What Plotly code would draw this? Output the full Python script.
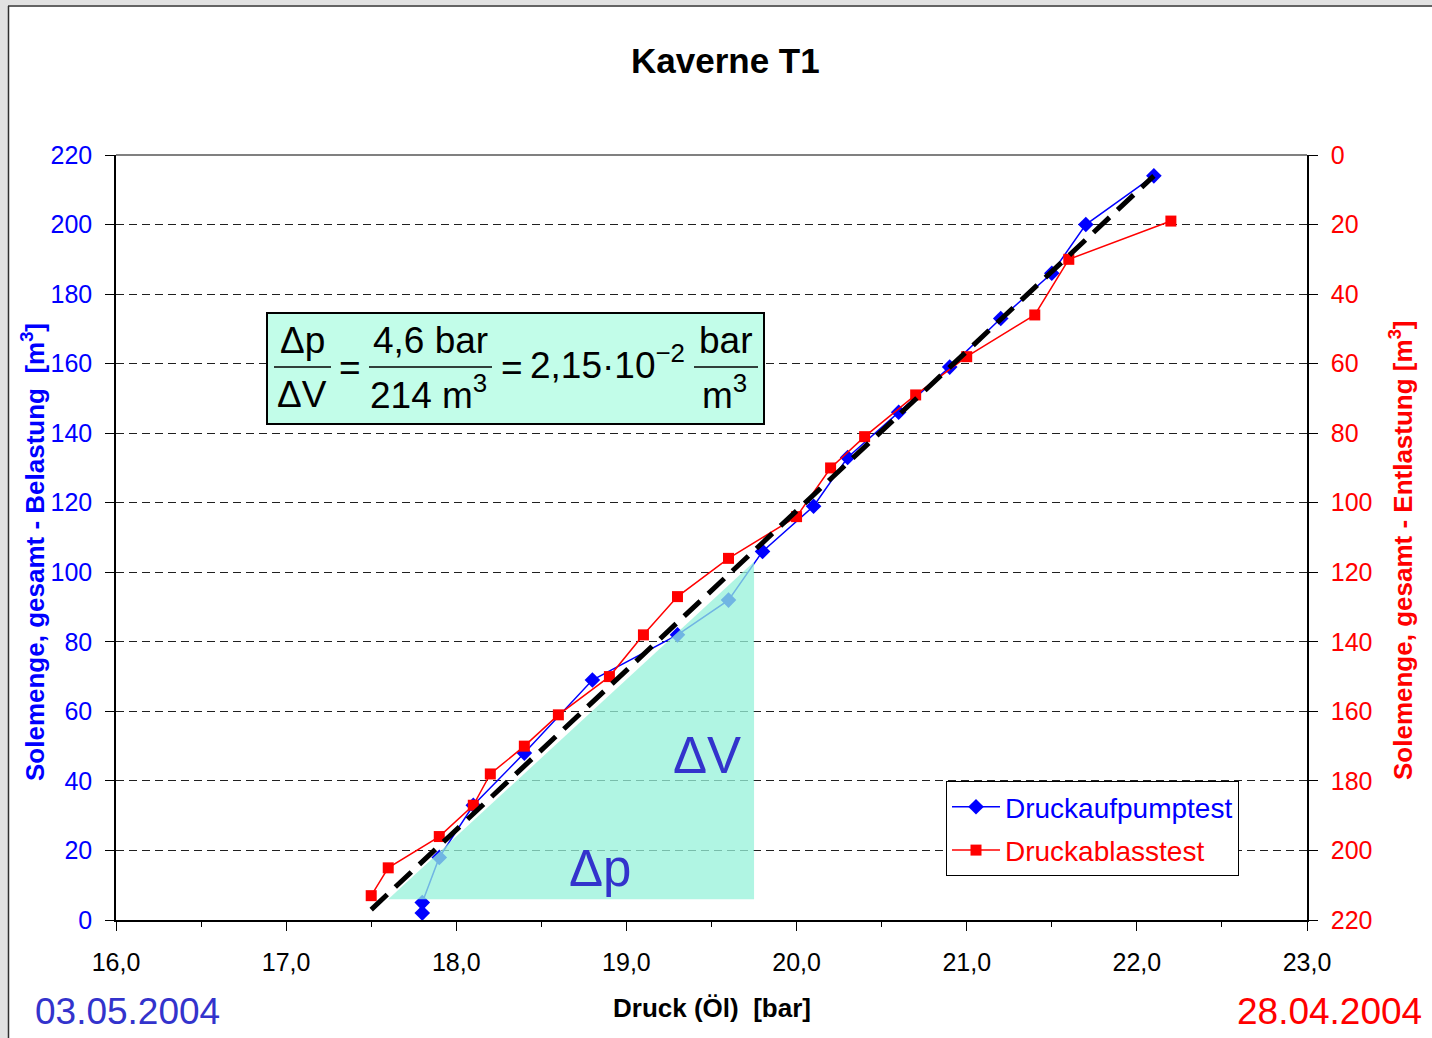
import plotly.graph_objects as go

# ---------------- data ----------------
# Druckaufpumptest (left axis, Belastung m³)
blue_x = [17.8, 17.8, 17.9, 18.1, 18.4, 18.8, 19.3, 19.6, 19.8, 20.1, 20.3, 20.6, 20.9, 21.2, 21.5, 21.7, 22.1]
blue_y = [2, 5, 18, 33, 48, 69, 82, 92, 106, 119, 133, 146, 159, 173, 186, 200, 214]

# Druckablasstest (right axis, Entlastung m³, reversed)
red_x = [17.5, 17.6, 17.9, 18.1, 18.2, 18.4, 18.6, 18.9, 19.1, 19.3, 19.6, 20.0, 20.2, 20.4, 20.7, 21.0, 21.4, 21.6, 22.2]
red_y = [213, 205, 196, 187, 178, 170, 161, 150, 138, 127, 116, 104, 90, 81, 69, 58, 46, 30, 19]

# regression line and triangle (left axis units)
fit_x = [17.5, 22.1]
fit_y = [3, 214]
tri_x = [17.6, 19.75, 19.75, 17.6]
tri_y = [6, 6, 103, 6]

x_ticks = [16, 17, 18, 19, 20, 21, 22, 23]
y_ticks = list(range(0, 221, 20))

FONT = "Liberation Sans, Arial, sans-serif"
BLUE = "#0000ff"
RED = "#ff0000"
DBLUE = "#3333cc"

# plot area in pixels
L, R, T, B = 116, 1307, 155, 920
W, H = 1432, 1038


def P(px, py):
    return ((px - L) / (R - L), (B - py) / (B - T))


fig = go.Figure()

fig.add_trace(go.Scatter(
    x=blue_x, y=blue_y, mode="lines+markers", yaxis="y",
    name=f"<span style='color:{BLUE}'>Druckaufpumptest</span>",
    legendgroup="a",
    line=dict(color=BLUE, width=1.5),
    marker=dict(symbol="diamond", size=12, color=BLUE),
))
fig.add_trace(go.Scatter(
    x=red_x, y=red_y, mode="lines+markers", yaxis="y2",
    name=f"<span style='color:{RED}'>Druckablasstest</span>",
    legendgroup="b",
    line=dict(color=RED, width=1.5),
    marker=dict(symbol="square", size=11, color=RED),
))
fig.add_trace(go.Scatter(
    x=tri_x, y=tri_y, mode="lines", yaxis="y3", fill="toself",
    fillcolor="rgba(150,242,218,0.75)", line=dict(width=0),
    showlegend=False, hoverinfo="skip",
))
fig.add_trace(go.Scatter(
    x=fit_x, y=fit_y, mode="lines", yaxis="y3",
    line=dict(color="black", width=5, dash="22px,11px"),
    showlegend=False, hoverinfo="skip",
))

shapes = []
annotations = []


def line_px(x0, y0, x1, y1, color="black", width=1.5):
    a = P(x0, y0)
    b = P(x1, y1)
    shapes.append(dict(type="line", xref="paper", yref="paper",
                       x0=a[0], y0=a[1], x1=b[0], y1=b[1],
                       line=dict(color=color, width=width)))


def text_px(px, py, text, size, color="black", bold=False, angle=0, xanchor="center"):
    x, y = P(px, py)
    if bold:
        text = f"<b>{text}</b>"
    annotations.append(dict(xref="paper", yref="paper", x=x, y=y, text=text,
                            showarrow=False, xanchor=xanchor, yanchor="middle",
                            textangle=angle,
                            font=dict(family=FONT, size=size, color=color)))


# window frame
a = P(0, 0); b = P(8, H)
shapes.append(dict(type="rect", xref="paper", yref="paper", x0=a[0], y0=a[1], x1=b[0], y1=b[1],
                   fillcolor="#e2e2e2", line=dict(width=0), layer="below"))
a = P(0, 0); b = P(W, 5)
shapes.append(dict(type="rect", xref="paper", yref="paper", x0=a[0], y0=a[1], x1=b[0], y1=b[1],
                   fillcolor="#e2e2e2", line=dict(width=0), layer="below"))
line_px(8.5, 6, 8.5, H, color="#303030", width=1.5)
line_px(8, 6, W, 6, color="#303030", width=1.5)

# top border of plot area
line_px(L, T, R, T, color="#808080", width=2)

# formula box
a = P(267, 313); b = P(764, 424)
shapes.append(dict(type="rect", xref="paper", yref="paper", x0=a[0], y0=a[1], x1=b[0], y1=b[1],
                   fillcolor="#c2fde9", line=dict(color="black", width=2)))
FS = 37
text_px(302, 340, "Δp", FS)
text_px(302, 394, "ΔV", FS)
line_px(274, 367, 331, 367)
text_px(350, 367, "=", FS)
text_px(430, 340, "4,6 bar", FS)
text_px(428, 392, "214 m<sup>3</sup>", FS)
line_px(369, 367, 492, 367)
text_px(512, 367, "=", FS)
text_px(607, 362, "2,15·10<sup>−2</sup>", FS)
text_px(725, 340, "bar", FS)
text_px(724, 392, "m<sup>3</sup>", FS)
line_px(694, 367, 758, 367)

# triangle labels
text_px(707, 755, "ΔV", 51, color=DBLUE)
text_px(600, 868, "Δp", 51, color=DBLUE)

# title, axis titles, dates
text_px(725, 60, "Kaverne T1", 35, bold=True)
text_px(712, 1008, "Druck (Öl)  [bar]", 26, bold=True)
text_px(33, 552, "Solemenge, gesamt - Belastung  [m<sup>3</sup>]", 26, color=BLUE, bold=True, angle=-90)
text_px(1401, 551, "Solemenge, gesamt - Entlastung [m<sup>3</sup>]", 26, color=RED, bold=True, angle=-90)
text_px(127, 1011, "03.05.2004", 37, color=DBLUE)
text_px(1329, 1011, "28.04.2004", 37, color=RED)

fig.update_layout(
    width=W, height=H,
    margin=dict(l=L, r=W - R, t=T, b=H - B, pad=0),
    paper_bgcolor="white", plot_bgcolor="white",
    separators=", ",
    font=dict(family=FONT, size=25, color="black"),
    showlegend=True,
    legend=dict(x=P(946, 781)[0], y=P(946, 781)[1], xanchor="left", yanchor="top",
                bgcolor="white", bordercolor="black", borderwidth=1,
                font=dict(family=FONT, size=28), itemwidth=48,
                tracegroupgap=4),
    xaxis=dict(range=[16, 23], tickvals=x_ticks, tickformat=".1f",
               ticks="outside", ticklen=9, tickcolor="black",
               ticklabelstandoff=10,
               showline=True, linecolor="black", linewidth=1.5,
               showgrid=False, zeroline=False,
               tickfont=dict(family=FONT, size=25, color="black"),
               minor=dict(dtick=0.5, ticks="outside", ticklen=5, tickcolor="black"),
               fixedrange=True),
    yaxis=dict(range=[0, 220], tickvals=y_ticks, side="left",
               ticks="outside", ticklen=9, tickcolor="black",
               ticklabelstandoff=8,
               showline=True, linecolor="black", linewidth=1.5,
               showgrid=True, gridcolor="#202020", gridwidth=1, griddash="8px,5px",
               zeroline=False,
               tickfont=dict(family=FONT, size=25, color=BLUE)),
    yaxis2=dict(range=[220, 0], tickvals=y_ticks, side="right", overlaying="y",
                ticks="outside", ticklen=9, tickcolor="black",
                ticklabelstandoff=8,
                showline=True, linecolor="black", linewidth=1.5,
                showgrid=False, zeroline=False,
                tickfont=dict(family=FONT, size=25, color=RED)),
    yaxis3=dict(range=[0, 220], overlaying="y", visible=False),
    shapes=shapes,
    annotations=annotations,
)

fig.write_html("out.html")
